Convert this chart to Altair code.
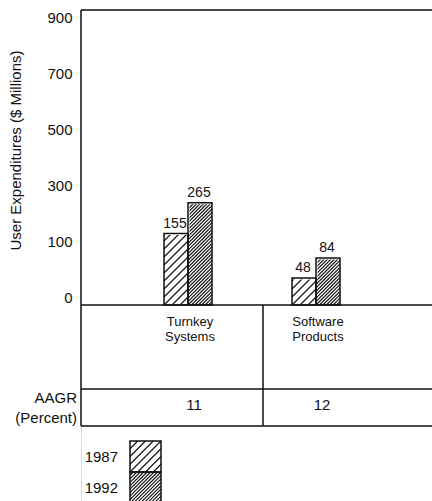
import altair as alt
import pandas as pd

# ---- chart values -------------------------------------------------------
categories = ["Turnkey Systems", "Software Products"]
years = ["1987", "1992"]
spend_1987 = [155, 48]
spend_1992 = [265, 84]
aagr = [11, 12]
y_ticks = [0, 100, 300, 500, 700, 900]
row_label = ["AAGR", "(Percent)"]
y_title = "User Expenditures ($ Millions)"

FONT = "Liberation Sans"
INK = "#111111"


def hatch_path(n):
    """Square tile ([-1,1] box) of n '/' hatch lines, seamless when tiled."""
    segs = []
    for k in range(1, 2 * n):
        c = 2 * k / n - 2
        if c <= 0:
            x0, y0, x1, y1 = -1, c + 1, c + 1, -1
        else:
            x0, y0, x1, y1 = c - 1, 1, 1, c - 1
        segs.append(f"M{x0:.4f},{y0:.4f}L{x1:.4f},{y1:.4f}")
    return "".join(segs)


bars = pd.DataFrame({
    "category": categories * 2,
    "year": [years[0]] * len(categories) + [years[1]] * len(categories),
    "value": spend_1987 + spend_1992,
})
table = pd.DataFrame({"category": categories, "aagr": aagr})
legend_df = pd.DataFrame({"year": years})
row_df = pd.DataFrame({"label": ["\n".join(row_label)]})
one = pd.DataFrame({"k": [0]})

# ---- scales ---------------------------------------------------------------
x_scale = alt.Scale(domain=categories, range=[43, 299], paddingInner=0, paddingOuter=0)
off_scale = alt.Scale(domain=years, range=[40, 88], paddingInner=0, paddingOuter=0)
# piecewise value axis: 0-100 gets the same height as each 200-step above it
y_scale = alt.Scale(domain=[0, 100, 954], range=[295, 239, 0], nice=False, zero=False)

y_axis = alt.Axis(
    values=y_ticks, format="d", title=y_title, grid=False, ticks=False, domain=False,
    labelPadding=9, labelOffset=-8, labelFontSize=15, labelColor=INK, labelFont=FONT,
    titleFontSize=15, titleFontWeight="normal", titleColor=INK, titleFont=FONT,
    titleX=-66, titleY=140, titleAngle=-90, titleAlign="center", titleBaseline="middle",
)

x_enc = alt.X("category:N", scale=x_scale, axis=None)
off_enc = alt.XOffset("year:N", scale=off_scale)
y_enc = alt.Y("value:Q", scale=y_scale, axis=y_axis)

# hatch tiles stacked up each bar column, trimmed by the white mask above the bar top
tiles = (
    alt.Chart(bars)
    .transform_calculate(tile="sequence(0, 6)")
    .transform_flatten(["tile"])
    .transform_calculate(py="283 - 24 * datum.tile")
    .mark_point(filled=False, size=576, stroke=INK, strokeWidth=1.1, opacity=1)
    .encode(
        x=x_enc,
        xOffset=off_enc,
        y=alt.Y("py:Q", scale=None),
        shape=alt.Shape("year:N", scale=alt.Scale(domain=years, range=[hatch_path(3), hatch_path(7)]), legend=None),
    )
)

mask = alt.Chart(bars).mark_bar(fill="white", stroke="white", strokeWidth=3).encode(
    x=x_enc, xOffset=off_enc, y=y_enc, y2=alt.datum(600)
)

outline = alt.Chart(bars).mark_bar(fill="white", fillOpacity=0, stroke=INK, strokeWidth=1.5).encode(
    x=x_enc, xOffset=off_enc, y=y_enc
)

value_labels = alt.Chart(bars).mark_text(
    dy=-6, dx=-1, baseline="alphabetic", fontSize=14, font=FONT, color=INK
).encode(x=x_enc, xOffset=off_enc, y=y_enc, text="value:Q")

# ---- table under the plot ----------------------------------------------------
cat_text = alt.Chart(table).mark_text(
    lineBreak=" ", lineHeight=15, fontSize=13, font=FONT, color=INK, baseline="alphabetic", dx=2
).encode(x=x_enc, y=alt.value(316), text="category:N")

aagr_text = alt.Chart(table).mark_text(
    fontSize=15, font=FONT, color=INK, baseline="alphabetic", dx=6
).encode(x=x_enc, y=alt.value(400), text="aagr:Q")

row_text = alt.Chart(row_df).mark_text(
    lineBreak="\n", lineHeight=20, fontSize=15, font=FONT, color=INK, align="right", baseline="alphabetic"
).encode(x=alt.value(-4), y=alt.value(393), text="label:N")


def hrule(y, x0, x1):
    return alt.Chart(one).mark_rule(color=INK, strokeWidth=1.5).encode(
        x=alt.value(x0), x2=alt.value(x1), y=alt.value(y)
    )


def vrule(x, y0, y1):
    return alt.Chart(one).mark_rule(color=INK, strokeWidth=1.5).encode(
        x=alt.value(x), y=alt.value(y0), y2=alt.value(y1)
    )


frame = [
    hrule(0, 0, 351),      # top of plot
    hrule(295, 0, 351),    # zero line / table top
    hrule(379, 0, 351),    # AAGR row
    hrule(416, 0, 351),    # table bottom
    vrule(0, 0, 416),      # left edge
    vrule(182, 295, 416),  # column divider
]

# ---- year key -------------------------------------------------------------
key_base = (
    alt.Chart(legend_df)
    .transform_window(idx="row_number()")
    .transform_calculate(ly="431 + 31 * (datum.idx - 1)")
    .transform_calculate(ly2="datum.ly + 31", lc="datum.ly + 15.5")
)
key_tiles = key_base.mark_point(filled=False, size=961, stroke=INK, strokeWidth=1.1, opacity=1).encode(
    x=alt.value(64.5),
    y=alt.Y("lc:Q", scale=None),
    shape=alt.Shape("year:N", scale=alt.Scale(domain=years, range=[hatch_path(4), hatch_path(9)]), legend=None),
)
key_boxes = key_base.mark_rect(fill="white", fillOpacity=0, stroke=INK, strokeWidth=1.5).encode(
    x=alt.value(49), x2=alt.value(80), y=alt.Y("ly:Q", scale=None), y2="ly2:Q"
)
key_text = key_base.mark_text(fontSize=15, font=FONT, color=INK, align="right", baseline="middle").encode(
    x=alt.value(37), y=alt.Y("lc:Q", scale=None), text="year:N"
)

chart = (
    alt.layer(tiles, mask, outline, value_labels, cat_text, aagr_text, row_text,
              *frame, key_tiles, key_boxes, key_text)
    .resolve_scale(shape="independent")
    .properties(
        width=351, height=491,
        autosize=alt.AutoSizeParams(type="none"),
        padding={"left": 81, "top": 10, "right": 0, "bottom": 0},
        background="white",
    )
    .configure_view(stroke="transparent")
    .configure(font=FONT)
)

chart.save("out.html", embed_options={"renderer": "svg", "actions": False})
